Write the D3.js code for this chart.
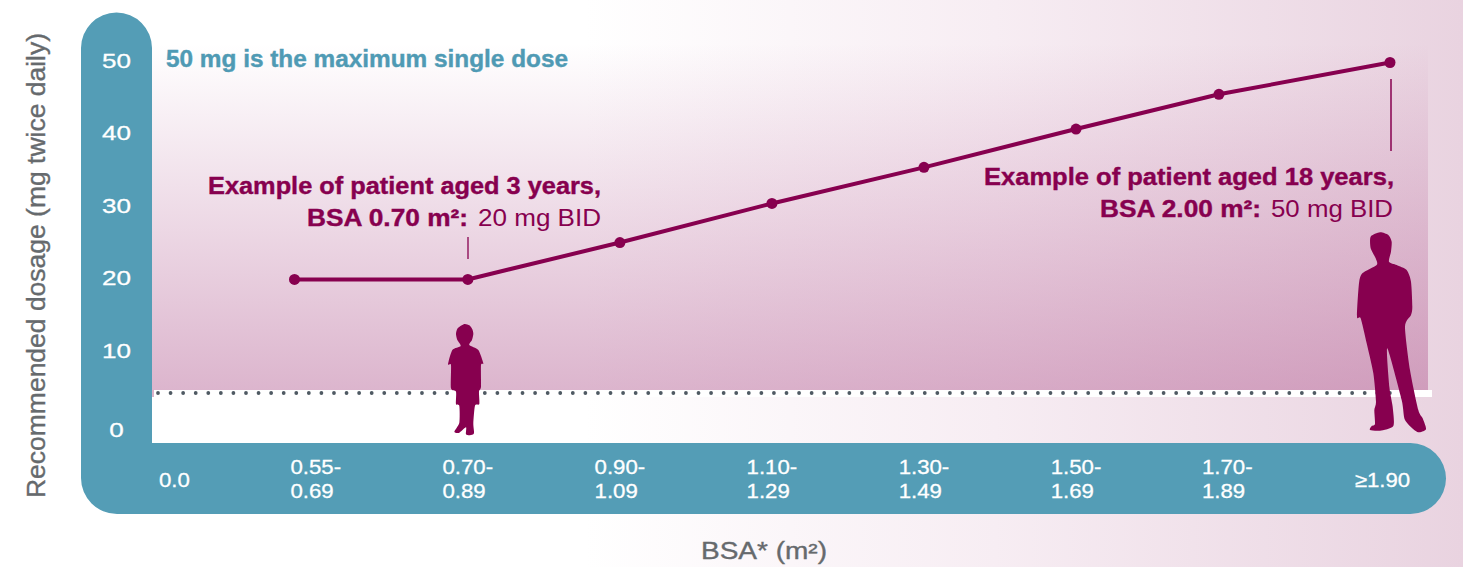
<!DOCTYPE html>
<html>
<head>
<meta charset="utf-8">
<script src="https://cdn.jsdelivr.net/npm/d3@7"></script>
<style>
  html, body { margin: 0; padding: 0; background: #fff; overflow: hidden; }
  text { font-family: "Liberation Sans", sans-serif; }
</style>
</head>
<body>
<div id="chart"></div>
<script>
// values
const bsaPoints = [0.472, 0.70, 0.90, 1.10, 1.30, 1.50, 1.688, 1.913];
const doses = [20, 20, 25.1, 30.5, 35.5, 40.8, 45.6, 50];
const xTickPos = [0.293, 0.466, 0.666, 0.866, 1.066, 1.266, 1.466, 1.665, 1.866];
const xTickLabels = ["0.0", "0.55-|0.69", "0.70-|0.89", "0.90-|1.09", "1.10-|1.29", "1.30-|1.49", "1.50-|1.69", "1.70-|1.89", "≥1.90"];
const yTickPos = [-1.0, 9.95, 20.1, 30.1, 40.2, 50.1];
const yTickLabels = ["0", "10", "20", "30", "40", "50"];

const width = 1463;
const height = 567;
const magenta = "#87004f";
const teal = "#549db6";
const grey = "#666a6d";

// silhouettes, 3x coordinates
const childOutline = [[133,72],[148,76],[157,88],[160,102],[156,120],[148,135],[175,150],[190,190],[183,195],[183,260],[177,275],[178,312],[165,317],[160,370],[162,400],[150,406],[138,403],[138,382],[118,398],[103,395],[118,368],[118,318],[108,312],[108,275],[93,265],[93,195],[84,193],[97,150],[122,138],[112,120],[108,102],[113,85]];
const manOutline = [[122,50],[150,37],[175,45],[185,65],[183,95],[177,125],[200,135],[230,150],[243,185],[247,260],[243,285],[225,320],[240,450],[265,570],[278,595],[288,628],[262,636],[225,600],[215,540],[172,385],[178,500],[188,560],[190,618],[150,632],[120,630],[125,618],[135,612],[133,570],[138,545],[130,460],[110,370],[92,295],[81,290],[87,190],[97,160],[140,135],[137,115],[122,85]];

const svg = d3.select("#chart")
    .append("svg")
    .attr("width", width)
    .attr("height", height)
    .style("display", "block");

const defs = svg.append("defs");

const pageGrad = defs.append("linearGradient").attr("id", "page-grad");
[["40%", "#ffffff"], ["68%", "#f7edf3"], ["100%", "#e9d3e0"]].forEach(s => {
    pageGrad.append("stop").attr("offset", s[0]).attr("stop-color", s[1]);
});

const plotGrad = defs.append("linearGradient")
    .attr("id", "plot-grad")
    .attr("x1", "0%").attr("x2", "0%").attr("y1", "0%").attr("y2", "100%");
plotGrad.append("stop").attr("offset", "8%").attr("stop-color", "rgb(170,75,134)").attr("stop-opacity", 0);
plotGrad.append("stop").attr("offset", "100%").attr("stop-color", "rgb(170,75,134)").attr("stop-opacity", 0.41);

svg.append("rect").attr("width", width).attr("height", height).attr("fill", "url(#page-grad)");

// plot area and white band along the bottom
svg.append("rect").attr("x", 152).attr("y", 13).attr("width", 1276).attr("height", 377).attr("fill", "url(#plot-grad)");
svg.append("rect").attr("x", 152).attr("y", 390).attr("width", 2).attr("height", 7).attr("fill", "#d9b3ca");
svg.append("rect").attr("x", 154).attr("y", 390).attr("width", 1278).attr("height", 7).attr("fill", "#fff");

// teal L shaped frame
svg.append("path")
    .attr("d", "M81,48 A35.5,35.5 0 0 1 152,48 V443 H1410.5 A35.5,35.5 0 0 1 1410.5,514 H117 A36,36 0 0 1 81,478 Z")
    .attr("fill", teal);

const x = d3.scaleLinear().domain([0.472, 1.913]).range([294.5, 1390]);
const y = d3.scaleLinear().domain([0, 50]).range([424, 62.5]);

// stretch a text to the width it has in the picture
function fit(sel, w) {
    return sel.attr("textLength", w).attr("lengthAdjust", "spacingAndGlyphs");
}

// dotted baseline
svg.append("line")
    .attr("x1", 158).attr("x2", 1391).attr("y1", 393).attr("y2", 393)
    .attr("stroke", "#4f5a63")
    .attr("stroke-width", 3.8)
    .attr("stroke-linecap", "round")
    .attr("stroke-dasharray", "0 12.57");

// y axis
const yAxis = d3.axisLeft(y)
    .tickValues(yTickPos)
    .tickSize(0)
    .tickFormat((d, i) => yTickLabels[i]);

const yG = svg.append("g").attr("transform", "translate(116.5,0)").call(yAxis);
yG.select(".domain").remove();
yG.selectAll("text")
    .attr("x", 0)
    .attr("dy", "0.27em")
    .attr("text-anchor", "middle")
    .attr("fill", "#fff")
    .attr("stroke", "#fff")
    .attr("stroke-width", 0.3)
    .style("font-size", "21px")
    .style("font-family", "Liberation Sans")
    .attr("textLength", (d, i) => yTickLabels[i].length * 14.5)
    .attr("lengthAdjust", "spacingAndGlyphs");

// x axis, labels are left aligned and mostly on two lines
const xAxis = d3.axisBottom(x)
    .tickValues(xTickPos)
    .tickSize(0)
    .tickFormat("");

const xG = svg.append("g").attr("transform", "translate(0,443)").call(xAxis);
xG.select(".domain").remove();
xG.selectAll(".tick").each(function (d, i) {
    const parts = xTickLabels[i].split("|");
    const g = d3.select(this);
    g.select("text").remove();
    parts.forEach((p, k) => {
        const base = parts.length === 1 ? 44 : 31 + k * 24;
        const t = g.append("text")
            .attr("x", 0)
            .attr("y", base)
            .attr("text-anchor", "start")
            .attr("fill", "#fff")
            .attr("stroke", "#fff")
            .attr("stroke-width", 0.3)
            .style("font-size", "20px")
            .style("font-family", "Liberation Sans")
            .text(p);
        fit(t, t.node().getComputedTextLength() * 1.11);
    });
});

// axis titles
fit(svg.append("text")
    .attr("transform", "translate(44.5,498) rotate(-90)")
    .attr("fill", grey)
    .attr("stroke", grey)
    .attr("stroke-width", 0.35)
    .style("font-size", "25px")
    .text("Recommended dosage (mg twice daily)"), 465);

fit(svg.append("text")
    .attr("x", 701).attr("y", 559)
    .attr("fill", grey)
    .attr("stroke", grey)
    .attr("stroke-width", 0.35)
    .style("font-size", "23px")
    .text("BSA* (m²)"), 126);

// dose line
const line = d3.line().x(d => x(d[0])).y(d => y(d[1]));
const pts = d3.zip(bsaPoints, doses);

svg.append("path")
    .datum(pts)
    .attr("d", line)
    .attr("fill", "none")
    .attr("stroke", magenta)
    .attr("stroke-width", 4);

svg.selectAll(".pt")
    .data(pts)
    .join("circle")
    .attr("class", "pt")
    .attr("cx", d => x(d[0]))
    .attr("cy", d => y(d[1]))
    .attr("r", 5.5)
    .attr("fill", magenta);

// leader ticks
svg.append("line").attr("x1", 468).attr("x2", 468).attr("y1", 237).attr("y2", 259).attr("stroke", magenta).attr("stroke-width", 1.3);
svg.append("line").attr("x1", 1391).attr("x2", 1391).attr("y1", 79).attr("y2", 151).attr("stroke", magenta).attr("stroke-width", 1.5);

// annotations
function note(tx, ty, w, str, weight, color) {
    const t = svg.append("text")
        .attr("x", tx).attr("y", ty)
        .attr("fill", color)
        .style("font-size", "24px")
        .style("font-weight", weight)
        .text(str);
    if (weight === "bold") t.attr("stroke", color).attr("stroke-width", 0.4);
    fit(t, w);
}
note(166, 67, 402, "50 mg is the maximum single dose", "bold", "#4f9ab4");
note(208, 194, 393, "Example of patient aged 3 years,", "bold", magenta);
note(307, 226, 161, "BSA 0.70 m²:", "bold", magenta);
note(478, 226, 123, "20 mg BID", "normal", magenta);
note(984, 185, 410, "Example of patient aged 18 years,", "bold", magenta);
note(1100, 217, 161, "BSA 2.00 m²:", "bold", magenta);
note(1271, 217, 122, "50 mg BID", "normal", magenta);

// silhouettes
const outline = d3.line().curve(d3.curveCardinalClosed.tension(0.3));
svg.append("path")
    .attr("transform", "translate(420,300) scale(0.3333)")
    .attr("d", outline(childOutline))
    .attr("fill", magenta);
svg.append("path")
    .attr("transform", "translate(1330,220) scale(0.3333)")
    .attr("d", outline(manOutline))
    .attr("fill", magenta);
</script>
</body>
</html>
